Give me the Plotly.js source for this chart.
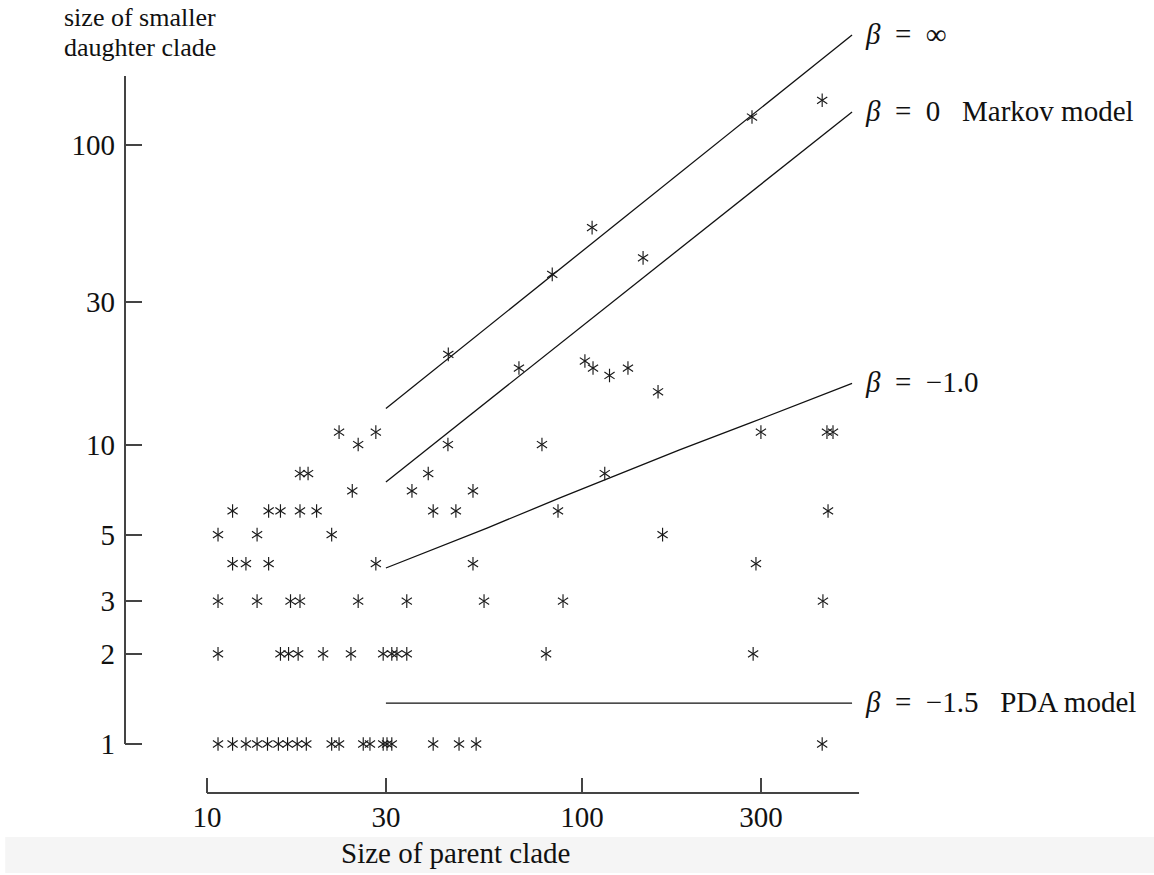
<!DOCTYPE html>
<html><head><meta charset="utf-8">
<script src="https://cdn.plot.ly/plotly-3.0.1.min.js"></script>
<style>html,body{margin:0;padding:0;background:#fff}#chart{width:1154px;height:875px}</style>
</head><body><div id="chart"></div>
<script>
// parent clade size (x) and size of smaller daughter clade (y)
const parentSize = [
  10.7, 11.7, 12.7, 13.6, 14.5, 15.5, 16.4, 17.4, 18.4, 21.5, 22.5, 26.1, 27.2, 29.5, 30.2, 31.1, 40.1, 47.0, 52.2, 437,
  10.7, 15.7, 16.5, 17.5, 20.4, 24.2, 29.5, 31.1, 32.1, 34.1, 80.2, 286,
  10.7, 13.6, 16.7, 17.7, 25.3, 34.1, 54.8, 89.0, 439,
  11.7, 12.7, 14.6, 28.2, 51.2, 291,
  10.7, 13.6, 21.5, 164,
  11.7, 14.6, 15.7, 17.7, 19.6, 40.1, 46.1, 86.3, 453,
  24.4, 35.2, 51.2,
  17.7, 18.6, 38.9, 115,
  25.3, 43.9, 78.2,
  22.5, 28.2, 300, 450, 467,
  159.5, 67.9, 101.8, 107, 118.4, 132.6, 44.0, 83.3, 145.5, 106.4, 284, 437
];
const smallerSize = [
  1, 1, 1, 1, 1, 1, 1, 1, 1, 1, 1, 1, 1, 1, 1, 1, 1, 1, 1, 1,
  2, 2, 2, 2, 2, 2, 2, 2, 2, 2, 2, 2,
  3, 3, 3, 3, 3, 3, 3, 3, 3,
  4, 4, 4, 4, 4, 4,
  5, 5, 5, 5,
  6, 6, 6, 6, 6, 6, 6, 6, 6,
  7, 7, 7,
  8, 8, 8, 8,
  10, 10, 10,
  11, 11, 11, 11, 11,
  15, 18, 19, 18, 17, 18, 20, 37, 42, 53, 124, 141
];

// model curves
const lineN = [30, 525];
const betaInfY = [13.2, 233];
const beta0Y = [7.5, 129];
const betaM1N = [30, 55.8, 87.3, 182, 281, 525];
const betaM1Y = [3.87, 5.26, 6.63, 9.59, 11.8, 16.0];
const betaM15Y = [1.37, 1.37];
const lineLabels = [
  '<i>β</i>\u2002=\u2002∞',
  '<i>β</i>\u2002=\u20020\u2002 Markov model',
  '<i>β</i>\u2002=\u2002−1.0',
  '<i>β</i>\u2002=\u2002−1.5\u2002 PDA model'
];

// axes
const xTickVals = [10, 30, 100, 300];
const xTickText = ['10', '30', '100', '300'];
const yTickVals = [1, 2, 3, 5, 10, 30, 100];
const yTickText = ['1', '2', '3', '5', '10', '30', '100'];
const xAxisEnds = [10, 548];
const yAxisEnds = [1, 170];
const yTitleLines = ['size of smaller', 'daughter clade'];
const xTitle = 'Size of parent clade';

const FONT = 'Liberation Serif, Times New Roman, serif';
const lineStyle = {color: '#111', width: 1.3};
const mk = sym => ({symbol: sym, size: 8.5, color: '#1a1a1a', line: {width: 1.15, color: '#1a1a1a'}});

const traces = [
  {x: lineN, y: betaInfY, mode: 'lines', line: lineStyle, hoverinfo: 'skip'},
  {x: lineN, y: beta0Y, mode: 'lines', line: lineStyle, hoverinfo: 'skip'},
  {x: betaM1N, y: betaM1Y, mode: 'lines', line: lineStyle, hoverinfo: 'skip'},
  {x: lineN, y: betaM15Y, mode: 'lines', line: lineStyle, hoverinfo: 'skip'},
  {x: parentSize, y: smallerSize, mode: 'markers', marker: mk('y-up-open'), cliponaxis: false},
  {x: parentSize, y: smallerSize, mode: 'markers', marker: mk('y-down-open'), cliponaxis: false}
];

const ends = [betaInfY[1], beta0Y[1], betaM1Y[betaM1Y.length - 1], betaM15Y[1]];
const annotations = lineLabels.map((t, i) => ({
  text: t, xref: 'x', yref: 'y', x: Math.log10(lineN[1]), y: Math.log10(ends[i]),
  xanchor: 'left', yanchor: 'middle', xshift: 11, yshift: 1, showarrow: false,
  font: {family: FONT, size: 29, color: '#111'}
}));
annotations.push(
  {text: yTitleLines[0], xref: 'paper', yref: 'paper', x: -0.0857, y: 0.9898, xanchor: 'left', yanchor: 'middle', showarrow: false, font: {family: FONT, size: 26, color: '#111'}},
  {text: yTitleLines[1], xref: 'paper', yref: 'paper', x: -0.0857, y: 0.9527, xanchor: 'left', yanchor: 'middle', showarrow: false, font: {family: FONT, size: 26, color: '#111'}},
  {text: xTitle, xref: 'paper', yref: 'paper', x: 0.4503, y: -0.0766, xanchor: 'center', yanchor: 'middle', showarrow: false, font: {family: FONT, size: 29, color: '#111'}}
);

const shapes = [
  {type: 'rect', xref: 'paper', yref: 'paper', x0: -0.163, x1: 1.40, y0: -0.1022, y1: -0.0562, fillcolor: '#f5f5f5', line: {width: 0}, layer: 'below'},
  {type: 'line', xref: 'x', yref: 'paper', x0: xAxisEnds[0], x1: xAxisEnds[1], y0: 0, y1: 0, line: {color: '#444', width: 2}},
  {type: 'line', xref: 'paper', yref: 'y', x0: 0, x1: 0, y0: yAxisEnds[0], y1: yAxisEnds[1], line: {color: '#444', width: 2}}
];

const layout = {
  width: 1154, height: 875,
  margin: {l: 125, r: 294, t: 10, b: 82},
  paper_bgcolor: '#fff', plot_bgcolor: 'rgba(0,0,0,0)',
  showlegend: false,
  font: {family: FONT, color: '#111'},
  xaxis: {
    type: 'log', range: [0.78133, 2.74133], showgrid: false, zeroline: false, showline: false,
    tickmode: 'array', tickvals: xTickVals, ticktext: xTickText,
    ticks: 'inside', ticklen: 15, tickwidth: 2, tickcolor: '#444',
    tickfont: {family: FONT, size: 29, color: '#111'}, ticklabelstandoff: 4
  },
  yaxis: {
    type: 'log', range: [-0.1636, 2.4508], showgrid: false, zeroline: false, showline: false,
    tickmode: 'array', tickvals: yTickVals, ticktext: yTickText,
    ticks: 'inside', ticklen: 17, tickwidth: 2, tickcolor: '#444',
    tickfont: {family: FONT, size: 29, color: '#111'}, ticklabelstandoff: 9
  },
  annotations: annotations,
  shapes: shapes
};

Plotly.newPlot('chart', traces, layout, {staticPlot: true, displayModeBar: false});
</script>
</body></html>
